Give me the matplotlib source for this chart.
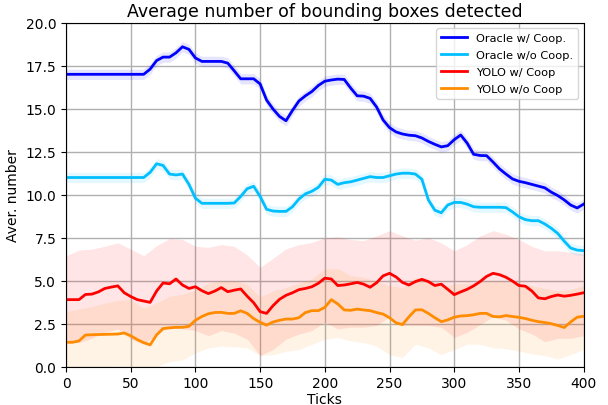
import numpy as np
import matplotlib
matplotlib.use("Agg")
import matplotlib.pyplot as plt

# sampled every 5 ticks
ticks = np.arange(0, 401, 5)

oracle_coop = [17.0, 17.0, 17.0, 17.0, 17.0, 17.0, 17.0, 17.0, 17.0, 17.0, 17.0, 17.0, 17.0,
               17.3, 17.8, 18.0, 18.0, 18.25, 18.6, 18.45, 17.95, 17.75, 17.75, 17.75, 17.75,
               17.65, 17.2, 16.74, 16.74, 16.74, 16.44, 15.5, 14.98, 14.55, 14.3, 14.9, 15.45,
               15.75, 16.0, 16.35, 16.6, 16.67, 16.72, 16.7, 16.2, 15.75, 15.73, 15.6, 15.1,
               14.35, 13.9, 13.65, 13.53, 13.46, 13.43, 13.3, 13.1, 12.93, 12.78, 12.85, 13.2,
               13.47, 13.0, 12.35, 12.28, 12.27, 11.9, 11.5, 11.2, 10.92, 10.78, 10.7, 10.6,
               10.5, 10.4, 10.15, 9.95, 9.7, 9.4, 9.23, 9.45]

oracle_nocoop = [11.0, 11.0, 11.0, 11.0, 11.0, 11.0, 11.0, 11.0, 11.0, 11.0, 11.0, 11.0, 11.0,
                 11.3, 11.8, 11.7, 11.2, 11.15, 11.2, 10.6, 9.8, 9.5, 9.5, 9.5, 9.5, 9.5, 9.52,
                 9.9, 10.35, 10.49, 9.9, 9.15, 9.05, 9.03, 9.03, 9.3, 9.75, 10.05, 10.2, 10.43,
                 10.9, 10.85, 10.6, 10.7, 10.75, 10.85, 10.95, 11.05, 11.0, 11.0, 11.1, 11.2,
                 11.25, 11.25, 11.2, 10.9, 9.7, 9.1, 8.95, 9.4, 9.55, 9.55, 9.45, 9.3, 9.27,
                 9.27, 9.27, 9.27, 9.25, 9.0, 8.72, 8.55, 8.49, 8.49, 8.3, 8.05, 7.75, 7.3, 6.9,
                 6.78, 6.75]

yolo_coop = [3.9, 3.9, 3.9, 4.2, 4.22, 4.35, 4.55, 4.63, 4.7, 4.3, 4.08, 3.9, 3.82, 3.74, 4.4,
             4.87, 4.82, 5.1, 4.75, 4.55, 4.65, 4.42, 4.25, 4.4, 4.6, 4.36, 4.45, 4.52, 4.1,
             3.72, 3.2, 3.1, 3.55, 3.92, 4.15, 4.3, 4.48, 4.55, 4.65, 4.85, 5.15, 5.1, 4.72,
             4.75, 4.82, 4.9, 4.8, 4.62, 4.88, 5.28, 5.43, 5.22, 4.9, 4.75, 4.95, 5.08, 4.95,
             4.72, 4.8, 4.5, 4.19, 4.35, 4.5, 4.7, 4.95, 5.25, 5.43, 5.35, 5.2, 4.98, 4.72,
             4.68, 4.4, 4.0, 3.95, 4.08, 4.17, 4.1, 4.15, 4.22, 4.3]

yolo_nocoop = [1.42, 1.42, 1.5, 1.84, 1.86, 1.87, 1.88, 1.89, 1.9, 1.96, 1.8, 1.58, 1.4, 1.27,
               1.85, 2.22, 2.26, 2.29, 2.29, 2.35, 2.7, 2.92, 3.08, 3.15, 3.16, 3.1, 3.1, 3.25,
               3.1, 2.8, 2.58, 2.42, 2.6, 2.7, 2.77, 2.77, 2.85, 3.15, 3.26, 3.26, 3.45, 3.9,
               3.65, 3.3, 3.28, 3.35, 3.3, 3.26, 3.15, 3.06, 2.85, 2.55, 2.45, 2.9, 3.3, 3.31,
               3.1, 2.85, 2.62, 2.72, 2.88, 2.95, 2.97, 3.02, 3.1, 3.1, 2.92, 2.9, 2.97, 2.92,
               2.87, 2.8, 2.7, 2.62, 2.57, 2.5, 2.4, 2.28, 2.6, 2.88, 2.93]

oracle_spread = 0.3

# band edges sampled every 10 ticks
band_ticks = np.arange(0, 401, 10)
yolo_coop_hi = [6.45, 6.78, 6.84, 7.0, 7.2, 6.84, 6.45, 7.04, 7.45, 7.4, 7.0, 6.94, 7.1, 7.0,
                6.5, 5.78, 6.3, 6.85, 7.1, 7.22, 7.5, 7.55, 7.4, 7.33, 7.6, 7.91, 7.6, 7.35,
                7.5, 7.2, 6.74, 7.1, 7.6, 7.91, 7.7, 7.4, 7.0, 6.74, 6.74, 6.65, 6.55]
yolo_coop_lo = [1.4, 1.4, 1.65, 2.0, 2.2, 1.6, 1.3, 1.9, 2.3, 2.2, 2.1, 1.8, 2.1, 1.95, 1.6,
                0.65, 1.0, 1.6, 1.9, 2.1, 2.6, 2.2, 2.3, 2.3, 2.4, 2.9, 2.4, 2.4, 2.4, 2.3,
                1.7, 2.0, 2.45, 2.9, 2.7, 2.2, 1.9, 1.45, 1.65, 1.65, 1.8]
yolo_nocoop_hi = [3.2, 3.35, 3.5, 3.7, 3.85, 3.9, 3.4, 3.7, 4.1, 4.2, 4.45, 4.85, 5.0, 5.0,
                  4.8, 4.05, 4.4, 4.6, 4.85, 5.1, 5.7, 5.7, 5.3, 5.2, 4.95, 4.71, 4.6, 5.2,
                  5.0, 4.7, 4.8, 4.85, 4.95, 5.0, 4.95, 4.85, 4.7, 4.55, 4.42, 4.5, 4.71]
yolo_nocoop_lo = [-0.45, -0.35, 0.0, 0.0, 0.05, 0.0, -0.45, 0.0, 0.3, 0.4, 0.8, 1.1, 1.2, 1.15,
                  1.1, 0.65, 0.7, 0.9, 1.0, 1.3, 1.6, 1.7, 1.5, 1.4, 1.2, 0.7, 0.55, 1.3, 1.1,
                  0.7, 1.0, 1.3, 1.3, 1.1, 1.05, 0.9, 0.75, 0.65, 0.45, 0.7, 1.0]

fig = plt.figure(figsize=(6.08, 4.06), dpi=100)
ax = fig.add_axes([0.1086, 0.0943, 0.8513, 0.8473])

oc = np.array(oracle_coop)
on = np.array(oracle_nocoop)
ax.fill_between(ticks, oc - oracle_spread, oc + oracle_spread, color='blue', alpha=0.1, lw=0)
ax.fill_between(ticks, on - oracle_spread, on + oracle_spread, color='deepskyblue', alpha=0.1, lw=0)
ax.fill_between(band_ticks, yolo_coop_lo, yolo_coop_hi, color='red', alpha=0.1, lw=0)
ax.fill_between(band_ticks, yolo_nocoop_lo, yolo_nocoop_hi, color='darkorange', alpha=0.1, lw=0)

ax.plot(ticks, oracle_coop, color='blue', lw=2, label='Oracle w/ Coop.')
ax.plot(ticks, oracle_nocoop, color='deepskyblue', lw=2, label='Oracle w/o Coop.')
ax.plot(ticks, yolo_coop, color='red', lw=2, label='YOLO w/ Coop')
ax.plot(ticks, yolo_nocoop, color='darkorange', lw=2, label='YOLO w/o Coop')

ax.set_xlim(0, 400)
ax.set_ylim(0, 20)
ax.set_xticks(np.arange(0, 401, 50))
ax.set_yticks(np.arange(0, 20.1, 2.5))
ax.grid(True, lw=1)
ax.set_axisbelow(True)
ax.set_title('Average number of bounding boxes detected', fontsize=12.5, pad=5)
ax.set_xlabel('Ticks', labelpad=1)
ax.set_ylabel('Aver. number')
ax.legend(loc='upper right', fontsize=8.2, labelspacing=0.62, handlelength=2.3)

fig.savefig('out.png', dpi=100)
